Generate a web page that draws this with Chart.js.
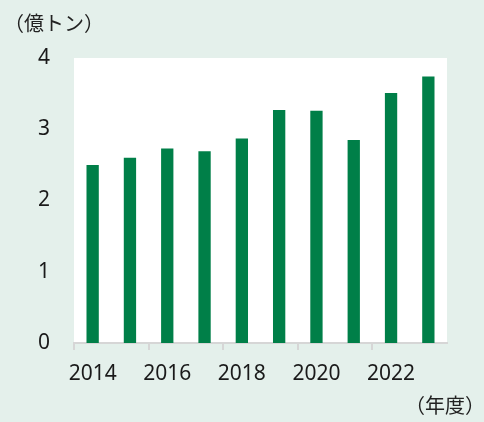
<!DOCTYPE html>
<html lang="ja">
<head>
<meta charset="UTF-8">
<title>億トン</title>
<script src="https://cdn.jsdelivr.net/npm/chart.js"></script>
<style>
  body { margin: 0; background: #e4f0eb; }
  canvas { display: block; }
</style>
</head>
<body>
<canvas id="chart" width="484" height="422"></canvas>
<script>
// data
const years = ['2014', '2015', '2016', '2017', '2018', '2019', '2020', '2021', '2022', '2023'];
const values = [2.50, 2.60, 2.73, 2.69, 2.87, 3.27, 3.26, 2.85, 3.51, 3.74];
const yTicks = [0, 1, 2, 3, 4];
const unitY = '（億トン）';
const unitX = '（年度）';

const font = '"Noto Sans", "Noto Sans CJK JP", sans-serif';
const jpFont = '"Noto Sans CJK JP", sans-serif';

const bgPlugin = {
    id: 'bg',
    beforeDraw(chart) {
        const c = chart.ctx, a = chart.chartArea;
        c.save();
        c.fillStyle = '#e4f0eb';
        c.fillRect(0, 0, chart.width, chart.height);
        c.fillStyle = '#ffffff';
        c.fillRect(a.left, a.top, a.right - a.left, a.bottom - a.top);
        c.restore();
    },
    afterDraw(chart) {
        const c = chart.ctx;
        c.save();
        c.fillStyle = '#222';
        c.font = '20px ' + jpFont;
        c.textBaseline = 'middle';
        c.textAlign = 'left';
        c.fillText(unitY, 4, 23);
        c.textAlign = 'right';
        c.fillText(unitX, 485, 405);
        c.restore();
    }
};

new Chart(document.getElementById('chart'), {
    type: 'bar',
    data: {
        labels: years,
        datasets: [{
            data: values,
            backgroundColor: '#007f48',
            borderWidth: 0,
            barPercentage: 0.33,
            categoryPercentage: 1
        }]
    },
    options: {
        responsive: false,
        animation: false,
        layout: { padding: { top: 58, right: 37, bottom: 0, left: 0 } },
        plugins: { legend: { display: false }, tooltip: { enabled: false } },
        scales: {
            x: {
                offset: true,
                grid: {
                    offset: true,
                    drawOnChartArea: false,
                    drawTicks: true,
                    tickLength: 7,
                    lineWidth: 2,
                    tickColor: ctx => ctx.index % 2 === 0 ? '#d6d6d6' : 'rgba(0,0,0,0)'
                },
                border: { display: true, color: '#d6d6d6', width: 2 },
                ticks: {
                    autoSkip: false,
                    maxRotation: 0,
                    padding: 11,
                    color: '#1a1a1a',
                    font: { family: font, size: 21 },
                    callback: (v, i) => i % 2 === 0 ? years[i] : ''
                },
                afterFit: s => { s.height = 79; }
            },
            y: {
                min: 0,
                max: 4,
                afterBuildTicks: s => { s.ticks = yTicks.map(v => ({ value: v })); },
                grid: { display: false, drawTicks: false },
                border: { display: false },
                ticks: {
                    padding: 24,
                    color: '#1a1a1a',
                    font: { family: font, size: 21 }
                },
                afterFit: s => { s.width = 74; }
            }
        }
    },
    plugins: [bgPlugin]
});
</script>
</body>
</html>
